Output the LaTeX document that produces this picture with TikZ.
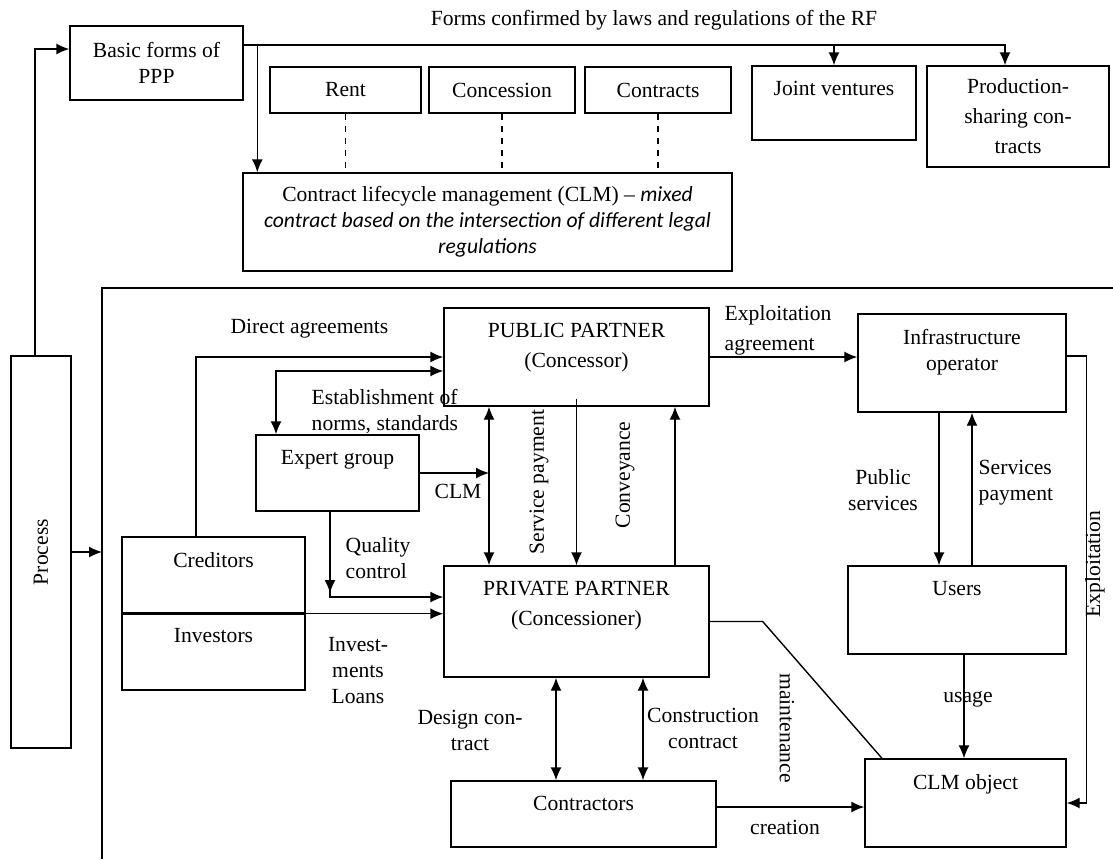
\documentclass[tikz,border=0pt]{standalone}
\usepackage{fontspec}
\setmainfont{Liberation Serif}
\newfontfamily\calibri{Carlito}
\usetikzlibrary{arrows.meta}

\begin{document}
\begin{tikzpicture}[x=0.5pt, y=-0.5pt, font=\fontsize{10.8}{13}\selectfont]
\tikzset{>={Latex[length=6.5pt, width=5.5pt]},
    every path/.style={line width=0.7pt},
    block/.style={rectangle, draw, inner sep=0pt, align=center},
    toptext/.style={label={[anchor=north, inner sep=0pt, align=center, yshift=-7.5pt]north:{#1}}},
    lbl/.style={align=center, inner sep=0pt}
}
  \useasboundingbox (0,0) rectangle (1113,859);

  % upper part: forms of PPP
  \node[block, minimum width=86.5pt, minimum height=37pt] (basic) at (156.5,63) {Basic forms of\\PPP};
  \node[lbl] (lawtitle) at (654,20) {Forms confirmed by laws and regulations of the RF};
  \node[block, minimum width=75.5pt, minimum height=23pt] (rent) at (345.5,90) {Rent};
  \node[block, minimum width=73pt, minimum height=23pt] (concession) at (502,90) {Concession};
  \node[block, minimum width=73pt, minimum height=23pt] (contracts) at (658,90) {Contracts};
  \node[block, minimum width=82pt, minimum height=37pt, toptext={Joint ventures}] (joint) at (834,103) {};
  \node[block, minimum width=91pt, minimum height=50.5pt] (prod) at (1018,116.5) {Production-\\[2pt]sharing con-\\[2pt]tracts};
  \node[block, minimum width=244.5pt, minimum height=49pt] (clm) at (487.5,222) {Contract lifecycle management (CLM) – {\calibri\itshape mixed}\\{\calibri\itshape contract based on the intersection of different legal}\\{\calibri\itshape regulations}};

  \coordinate (lawline) at ([yshift=9pt]basic.east);
  \draw[->] (lawline) -| ([xshift=-6.5pt]prod.north);
  \draw[->] (lawline -| joint.north) -- (joint.north);
  \draw[->] ([xshift=7.5pt]clm.north west |- lawline) -- ([xshift=7.5pt]clm.north west);
  \draw[dashed] (rent.south) -- (rent.south |- clm.north);
  \draw[dashed] (concession.south) -- (concession.south |- clm.north);
  \draw[dashed] (contracts.south) -- (contracts.south |- clm.north);

  % process
  \node[block, minimum width=30pt, minimum height=196pt] (process) at (41,552) {};
  \node[lbl, rotate=90] (process-t) at (process.center) {Process};
  \draw[->] ([xshift=-3pt]process.north) |- ([yshift=7pt]basic.west);
  \coordinate (frameSW) at (102,859);
  \coordinate (frameNW) at (102,288);
  \coordinate (frameNE) at (1113,288);
  \draw (frameSW) -- (frameNW) -- (frameNE);
  \draw[->] (process.east) -- (process.east -| frameNW);

  % partners
  \node[block, minimum width=132.5pt, minimum height=49pt, toptext={PUBLIC PARTNER\\[2pt](Concessor)}] (public) at (576.5,357) {};
  \node[block, minimum width=104pt, minimum height=49pt, toptext={Infrastructure\\operator}] (infra) at (962,363) {};
  \node[block, minimum width=81.5pt, minimum height=38pt, toptext={Expert group}] (expert) at (337.5,473) {};
  \node[block, minimum width=91.5pt, minimum height=38pt, toptext={Creditors}] (creditors) at (213.5,575) {};
  \node[block, minimum width=91.5pt, minimum height=38.5pt, toptext={Investors}] (investors) at (213.5,651.5) {};
  \node[block, minimum width=132.5pt, minimum height=55.5pt, toptext={PRIVATE PARTNER\\[2pt](Concessioner)}] (private) at (576.5,621.5) {};
  \node[block, minimum width=109pt, minimum height=44pt, toptext={Users}] (users) at (957,610) {};
  \node[block, minimum width=132.5pt, minimum height=33pt, toptext={Contractors}] (contractors) at (583.5,814) {};
  \node[block, minimum width=100.5pt, minimum height=44pt, toptext={CLM object}] (clmobj) at (965.5,803) {};
  \draw[line width=1.3pt] (creditors.south west) -- (creditors.south east);

  \draw[->] ([xshift=-8.75pt]creditors.north) |- (public.west);
  \node[lbl] (lbl-direct) at (309.5,329) {Direct agreements};
  \draw[<->] ([xshift=-30.75pt]expert.north) |- ([yshift=-7pt]public.west);
  \node[lbl, align=left, anchor=west] (lbl-norms) at (311,411.5) {Establishment of\\norms, standards};

  \coordinate (clmaxis) at ([xshift=-43.75pt]public.south);
  \draw[<->] (clmaxis) -- (clmaxis |- private.north);
  \draw[->] (expert.east) -- (expert.east -| clmaxis);
  \node[lbl] (lbl-clm) at (458,491) {CLM};
  \draw[->] ([yshift=4pt]public.south) -- (private.north);
  \node[lbl, rotate=90] (lbl-service) at (539,482) {Service payment};
  \draw[->] ([xshift=49.25pt]private.north) -- ([xshift=49.25pt]public.south);
  \node[lbl, rotate=90] (lbl-convey) at (625,475) {Conveyance};

  \draw[->] ([xshift=-3.75pt]expert.south) |- coordinate[pos=0.5] (qc) ([yshift=12.25pt]private.west);
  \draw[->] ([yshift=6pt]qc) -- ([yshift=2pt]qc);
  \node[lbl, align=left, anchor=west] (lbl-quality) at (345,558) {Quality\\control};
  \draw[->] (creditors.south east) -- (creditors.south east -| private.west);
  \node[lbl] (lbl-invest) at (358,671) {Invest-\\ments\\Loans};

  \draw[->] (public.east) -- (public.east -| infra.west);
  \node[lbl, align=left, anchor=west] (lbl-exploitagr) at (724,330) {Exploitation\\[2pt]agreement};
  \draw[->] ([xshift=-11.5pt]infra.south) -- ([xshift=-11.5pt]infra.south |- users.north);
  \draw[->] ([xshift=5pt]infra.south |- users.north) -- ([xshift=5pt]infra.south);
  \node[lbl] (lbl-pubserv) at (883,490) {Public\\services};
  \node[lbl, align=left, anchor=west] (lbl-servpay) at (978,483) {Services\\payment};
  \draw[->] ([xshift=3.5pt]users.south) -- ([xshift=3.5pt]users.south |- clmobj.north);
  \node[lbl] (lbl-usage) at (968,699) {usage};
  \draw[->] ([yshift=3.5pt]infra.east) -- ++(10pt,0) |- (clmobj.east);
  \node[lbl, rotate=90] (lbl-exploit) at (1095,564) {Exploitation};

  % contractors
  \draw[<->] ([xshift=-10.25pt]private.south) -- ([xshift=-10.25pt]private.south |- contractors.north);
  \node[lbl] (lbl-design) at (470,730) {Design con-\\tract};
  \draw[<->] ([xshift=33.25pt]private.south) -- ([xshift=33.25pt]private.south |- contractors.north);
  \node[lbl] (lbl-construct) at (703,728) {Construction\\contract};
  \draw (private.east) -- ++(26.5pt,0) -- ([xshift=-41.75pt]clmobj.north);
  \node[lbl, rotate=-90] (lbl-maint) at (787,728) {maintenance};
  \draw[->] ([yshift=3.5pt]contractors.east) -- ([yshift=3.5pt]contractors.east -| clmobj.west);
  \node[lbl] (lbl-creation) at (785,827) {creation};
\end{tikzpicture}
\end{document}
